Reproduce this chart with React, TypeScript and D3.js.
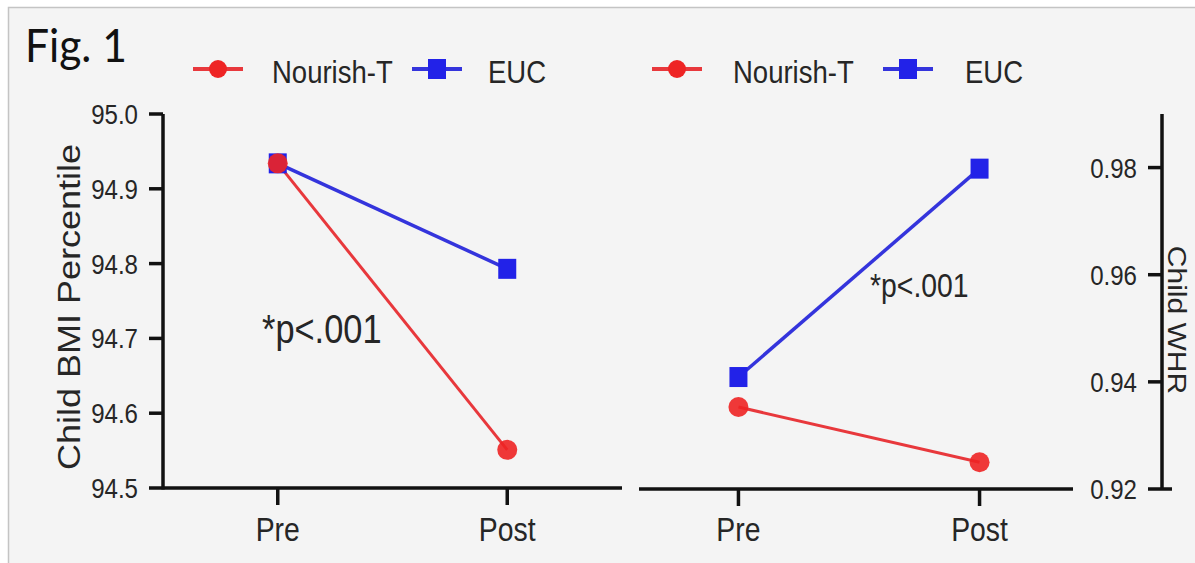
import * as d3 from "d3";
import { useEffect, useRef } from "react";

// data
const phases = ["Pre", "Post"];
const bmiNourish = [94.934, 94.551];
const bmiEuc = [94.934, 94.793];
const whrNourish = [0.9353, 0.925];
const whrEuc = [0.9409, 0.9798];
const bmiTicks = [94.5, 94.6, 94.7, 94.8, 94.9, 95.0];
const whrTicks = [0.92, 0.94, 0.96, 0.98];
const seriesNames = ["Nourish-T", "EUC"];

const RED = "#ee2424";
const RED_LINE = "#e8383c";
const BLUE = "#2222e8";
const BLUE_LINE = "#3434dc";
const INK = "#262626";
const SQ = 0.86; // the source picture is squeezed horizontally

export default function App() {
  const ref = useRef(null);

  useEffect(() => {
    const svg = d3.select(ref.current);
    svg.selectAll("*").remove();

    const font = "Liberation Sans, Arial, sans-serif";

    // squeezed text helper
    const label = (g, x, y, str, size, anchor, rot = 0) => {
      g.append("text")
        .attr("transform", "translate(" + x + "," + y + ") scale(" + SQ + ",1) rotate(" + rot + ")")
        .attr("text-anchor", anchor)
        .attr("font-family", font)
        .attr("font-size", size)
        .attr("fill", INK)
        .text(str);
    };

    // background box
    svg.append("rect").attr("width", 1195).attr("height", 563).attr("fill", "#fff");
    svg.append("rect")
      .attr("x", 8.5).attr("y", 7.5).attr("width", 1200).attr("height", 600)
      .attr("fill", "#f4f4f4").attr("stroke", "#c4c4c4").attr("stroke-width", 1.5);

    svg.append("text")
      .attr("x", 25).attr("y", 62)
      .attr("font-family", "Lato, 'Open Sans', sans-serif")
      .attr("font-size", 46)
      .attr("textLength", 102).attr("lengthAdjust", "spacingAndGlyphs")
      .attr("fill", "#111")
      .text("Fig. 1");

    // scales
    const xL = d3.scalePoint().domain(phases).range([163, 622]).padding(0.5);
    const xR = d3.scalePoint().domain(phases).range([642, 1076]).padding(0.4);
    const yL = d3.scaleLinear().domain([94.5, 95.0]).range([488, 114]);
    const yR = d3.scaleLinear().domain([0.92, 0.99]).range([489, 114]);

    const axis = svg.append("g").attr("stroke", "#111").attr("stroke-width", 3.5).attr("fill", "none");

    // left y axis
    axis.append("line").attr("x1", 163).attr("x2", 163).attr("y1", yL(95.0)).attr("y2", yL(94.5) + 1.5);
    bmiTicks.forEach((t) => {
      axis.append("line").attr("x1", 149).attr("x2", 163).attr("y1", yL(t)).attr("y2", yL(t));
      label(svg, 138, yL(t) + 10, d3.format(".1f")(t), 28, "end");
    });
    // left x axis
    axis.append("line").attr("x1", 163).attr("x2", 622).attr("y1", 488).attr("y2", 488);
    phases.forEach((p) => {
      axis.append("line").attr("x1", xL(p)).attr("x2", xL(p)).attr("y1", 488).attr("y2", 505);
      label(svg, xL(p), 541, p, 33, "middle");
    });

    // right x axis
    axis.append("line").attr("x1", 639).attr("x2", 1073).attr("y1", 489).attr("y2", 489);
    phases.forEach((p) => {
      axis.append("line").attr("x1", xR(p)).attr("x2", xR(p)).attr("y1", 489).attr("y2", 506);
      label(svg, xR(p), 541, p, 33, "middle");
    });
    // right y axis
    axis.append("line").attr("x1", 1162).attr("x2", 1162).attr("y1", 114).attr("y2", 489);
    whrTicks.forEach((t, i) => {
      axis.append("line").attr("x1", 1148).attr("x2", i === 0 ? 1172 : 1162).attr("y1", yR(t)).attr("y2", yR(t));
      label(svg, 1137, yR(t) + 10, d3.format(".2f")(t), 28, "end");
    });

    // axis titles
    label(svg, 80, 307, "Child BMI Percentile", 36, "middle", -90);
    label(svg, 1168, 320, "Child WHR", 30, "middle", 90);

    // series
    const drawPanel = (x, y, nourish, euc) => {
      const pts = (vals) => phases.map((p, i) => [x(p), y(vals[i])]);
      const line = d3.line();
      const g = svg.append("g");
      g.append("path").attr("d", line(pts(euc))).attr("stroke", BLUE_LINE).attr("stroke-width", 3.5).attr("fill", "none");
      g.append("path").attr("d", line(pts(nourish))).attr("stroke", RED_LINE).attr("stroke-width", 3).attr("fill", "none");
      g.selectAll("rect.euc").data(pts(euc)).enter().append("rect")
        .attr("x", (d) => d[0] - 9).attr("y", (d) => d[1] - 10)
        .attr("width", 18).attr("height", 20).attr("fill", BLUE);
      g.selectAll("circle.nt").data(pts(nourish)).enter().append("circle")
        .attr("cx", (d) => d[0]).attr("cy", (d) => d[1]).attr("r", 10)
        .attr("fill", RED).attr("opacity", 0.9);
    };
    drawPanel(xL, yL, bmiNourish, bmiEuc);
    drawPanel(xR, yR, whrNourish, whrEuc);

    // annotations
    label(svg, 262, 343, "*p<.001", 40, "start");
    label(svg, 870, 297, "*p<.001", 33, "start");

    // legends
    const legend = (x0, textX, eucLineX, eucTextX) => {
      const g = svg.append("g");
      g.append("line").attr("x1", x0).attr("x2", x0 + 50).attr("y1", 69).attr("y2", 69).attr("stroke", RED_LINE).attr("stroke-width", 4);
      g.append("circle").attr("cx", x0 + 25).attr("cy", 69).attr("r", 9).attr("fill", RED);
      label(g, textX, 83, seriesNames[0], 32, "start");
      g.append("line").attr("x1", eucLineX).attr("x2", eucLineX + 50).attr("y1", 69).attr("y2", 69).attr("stroke", BLUE_LINE).attr("stroke-width", 4);
      g.append("rect").attr("x", eucLineX + 16).attr("y", 59).attr("width", 18).attr("height", 20).attr("fill", BLUE);
      label(g, eucTextX, 83, seriesNames[1], 32, "start");
    };
    legend(193, 272, 412, 488);
    legend(652, 733, 883, 965);
  }, []);

  return (
    <svg
      ref={ref}
      width={1195}
      height={563}
      style={{ position: "absolute", left: 0, top: 0, display: "block" }}
    />
  );
}
